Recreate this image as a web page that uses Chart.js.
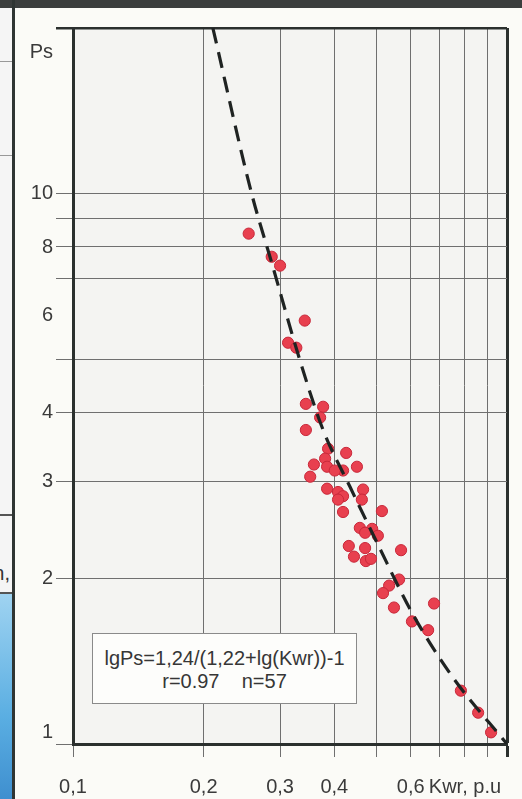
<!DOCTYPE html>
<html>
<head>
<meta charset="utf-8">
<script src="https://cdn.jsdelivr.net/npm/chart.js@4"></script>
<style>
  body { margin: 0; width: 522px; height: 799px; position: relative; overflow: hidden; background: #f3f3f3; font-family: "Liberation Sans", Arial, sans-serif; }
  .abs { position: absolute; }
  #topbar { left: 0; top: 0; width: 522px; height: 8px; background: #3b3e3d; }
  #leftstrip { left: 0; top: 8px; width: 12px; height: 791px; background: #f5f5f5; }
  #blue { left: 0; top: 594px; width: 12px; height: 205px; background: linear-gradient(#9fd3f1, #5aaee2 60%, #3f8fcf); }
  #edge { left: 12px; top: 0; width: 3px; height: 799px; background: #2f3533; }
  #panel { left: 15px; top: 8px; width: 507px; height: 791px; background: #fbfbf7; }
  .rule { left: 0; width: 12px; background: #555; }
  #cut { left: 0; top: 562px; width: 11px; height: 24px; overflow: hidden; font-size: 20px; color: #333; }
  #cut span { position: absolute; right: 1px; }
  #wrap { left: 0; top: 0; width: 522px; height: 799px; }
  #note { left: 92px; top: 633px; width: 265px; height: 71px; border: 1px solid #8a8a8a; background: #fdfdfb;
          font-size: 20px; line-height: 23px; color: #363636; text-align: center; box-sizing: border-box; padding-top: 13px; }
</style>
</head>
<body>
<div id="topbar" class="abs"></div>
<div id="leftstrip" class="abs"></div>
<div class="abs rule" style="top:61px;height:1px;background:#999"></div>
<div class="abs rule" style="top:155px;height:1px;background:#999"></div>
<div class="abs rule" style="top:514px;height:2px"></div>
<div class="abs rule" style="top:592px;height:2px"></div>
<div id="cut" class="abs"><span>n,</span></div>
<div id="blue" class="abs"></div>
<div id="edge" class="abs"></div>
<div id="panel" class="abs"></div>
<div id="wrap" class="abs"><canvas id="myChart" width="522" height="799"></canvas></div>
<div id="note" class="abs">lgPs=1,24/(1,22+lg(Kwr))-1<br>r=0.97&nbsp;&nbsp;&nbsp;&nbsp;n=57</div>
<script>
// measured points, Kwr (p.u.) and Ps
const kwr = [0.254, 0.287, 0.300, 0.342, 0.313, 0.327, 0.344, 0.377, 0.371, 0.344,
             0.387, 0.426, 0.381, 0.359, 0.385, 0.419, 0.451, 0.401, 0.352, 0.385,
             0.408, 0.466, 0.419, 0.408, 0.463, 0.419, 0.515, 0.458, 0.489, 0.471,
             0.504, 0.432, 0.471, 0.570, 0.444, 0.473, 0.486, 0.564, 0.535, 0.518,
             0.679, 0.549, 0.604, 0.658, 0.783, 0.858, 0.919];
const ps = [8.46, 7.68, 7.40, 5.88, 5.36, 5.25, 4.15, 4.10, 3.92, 3.72,
            3.44, 3.38, 3.30, 3.22, 3.19, 3.14, 3.19, 3.14, 3.06, 2.91,
            2.87, 2.90, 2.82, 2.78, 2.78, 2.64, 2.65, 2.47, 2.46, 2.42,
            2.39, 2.29, 2.27, 2.25, 2.19, 2.15, 2.17, 1.99, 1.94, 1.88,
            1.80, 1.77, 1.67, 1.61, 1.25, 1.14, 1.05];

// dashed regression curve
const fitKwr = [0.210, 0.258, 0.287, 0.333, 0.377, 0.435, 0.502, 0.607, 0.751, 1.0];
const fitPs = [20, 10, 7.49, 4.99, 3.72, 2.93, 2.32, 1.72, 1.32, 1.0];

const xTickValues = [0.1, 0.2, 0.3, 0.4, 0.5, 0.6, 0.7, 0.8, 0.9, 1.0];
const xTickLabels = ['0,1', '0,2', '0,3', '0,4', '', '0,6', '', 'Kwr, p.u', '', ''];
const yTickValues = [1, 2, 3, 4, 5, 6, 7, 8, 9, 10, 20];
const yTickLabels = [['1', ''], '2', '3', '4', '', '6', '', '8', '', '10', ['', '', 'Ps']];

const gridCol = '#6f6f6f';
const frameCol = '#2b302e';

const plotBg = {
    id: 'plotBg',
    beforeDraw(chart) {
        const a = chart.chartArea, c = chart.ctx;
        c.save();
        c.fillStyle = '#f4f4f2';
        c.fillRect(a.left, a.top, a.right - a.left, a.bottom - a.top);
        c.restore();
    }
};

Chart.defaults.font.family = '"Liberation Sans", Arial, sans-serif';
Chart.defaults.font.size = 20;
Chart.defaults.color = '#3a3a3a';

const config = {
    type: 'scatter',
    data: {
        datasets: [
            {
                type: 'line',
                data: fitKwr.map((x, i) => ({ x: x, y: fitPs[i] })),
                borderColor: '#1f2322',
                borderWidth: 3.2,
                borderDash: [16, 9],
                pointRadius: 0,
                cubicInterpolationMode: 'monotone',
                order: 0
            },
            {
                data: kwr.map((x, i) => ({ x: x, y: ps[i] })),
                backgroundColor: '#e8404f',
                borderColor: '#c9283a',
                borderWidth: 1,
                pointRadius: 5.6,
                order: 1
            }
        ]
    },
    options: {
        responsive: false,
        animation: false,
        layout: { padding: { top: 28, right: 15, left: 0, bottom: 0 } },
        plugins: { legend: { display: false }, tooltip: { enabled: false } },
        scales: {
            x: {
                type: 'logarithmic',
                min: 0.1,
                max: 1.0,
                afterBuildTicks: s => { s.ticks = xTickValues.map(v => ({ value: v })); },
                afterFit: s => { s.height = 55; s.paddingLeft = 0; s.paddingRight = 0; },
                ticks: {
                    autoSkip: false,
                    maxRotation: 0,
                    padding: 18,
                    callback: (v, i) => xTickLabels[i]
                },
                grid: {
                    color: c => (c.tick && c.tick.value === 1.0) ? frameCol : gridCol,
                    lineWidth: c => (c.tick && c.tick.value === 1.0) ? 3 : 1,
                    tickLength: 13
                },
                border: { display: true, color: frameCol, width: 3 }
            },
            y: {
                type: 'logarithmic',
                min: 1,
                max: 20,
                afterBuildTicks: s => { s.ticks = yTickValues.map(v => ({ value: v })); },
                afterFit: s => { s.width = 73; s.paddingTop = 0; s.paddingBottom = 0; },
                ticks: {
                    autoSkip: false,
                    padding: 3,
                    callback: (v, i) => yTickLabels[i]
                },
                grid: {
                    color: c => {
                        if (!c.tick) return gridCol;
                        if (c.tick.value === 6) return 'rgba(0,0,0,0)';
                        return c.tick.value === 20 ? frameCol : gridCol;
                    },
                    lineWidth: c => (c.tick && c.tick.value === 20) ? 2.5 : 1,
                    tickLength: 17
                },
                border: { display: true, color: frameCol, width: 3 }
            }
        }
    },
    plugins: [plotBg]
};

myChart = new Chart(document.getElementById('myChart'), config);
</script>
</body>
</html>
